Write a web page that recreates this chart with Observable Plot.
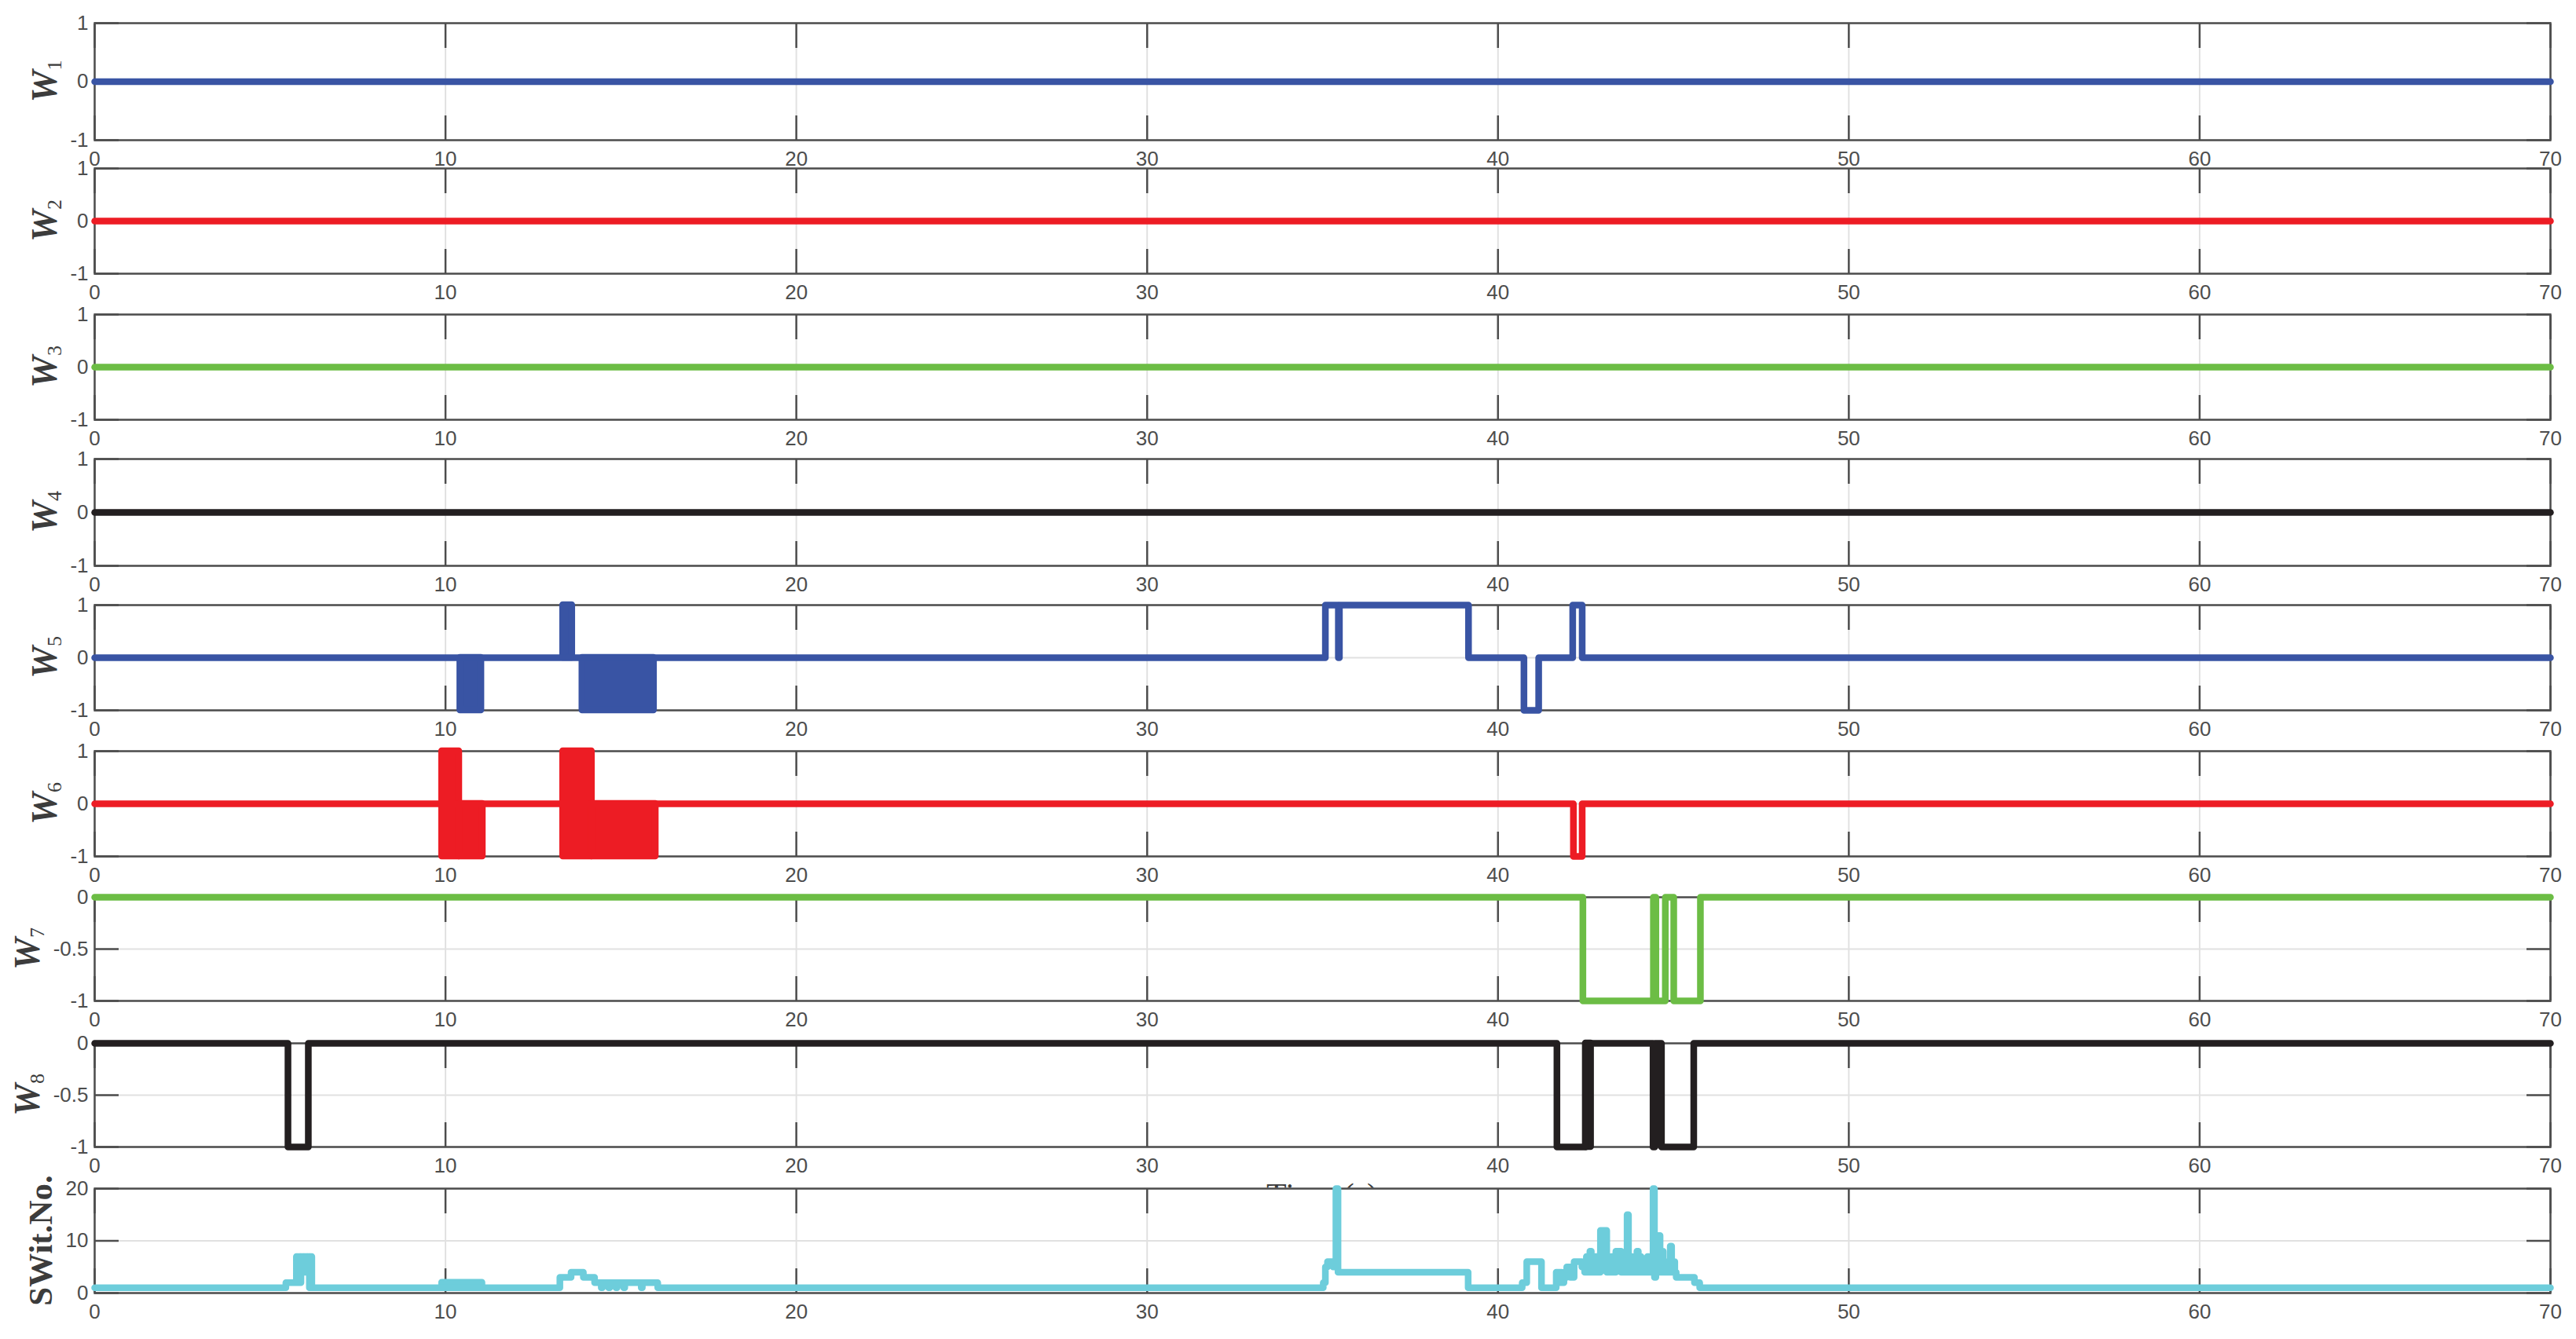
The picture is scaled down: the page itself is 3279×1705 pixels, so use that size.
<!DOCTYPE html>
<html>
<head>
<meta charset="utf-8">
<script src="https://cdn.jsdelivr.net/npm/d3@7"></script>
<script src="https://cdn.jsdelivr.net/npm/@observablehq/plot@0.6"></script>
<style>
  html, body { margin: 0; padding: 0; background: #ffffff; }
  #chart { position: relative; width: 3279px; height: 1705px; background: #ffffff; overflow: hidden; }
  #chart svg { position: absolute; left: 0; }
</style>
</head>
<body>
<div id="chart"></div>
<script>
// ---------------- data ----------------
const xTicks = [0, 10, 20, 30, 40, 50, 60, 70];
const yTicksW = [-1, 0, 1];
const yTicksNeg = [-1, -0.5, 0];
const yTicksSw = [0, 10, 20];

// step series: [time (s), value], drawn as step-after
const w1Steps = [[0, 0], [70, 0]];
const w2Steps = [[0, 0], [70, 0]];
const w3Steps = [[0, 0], [70, 0]];
const w4Steps = [[0, 0], [70, 0]];
const w5Steps = [[0, 0], [35.08, 1], [35.45, 0], [35.48, 1], [39.16, 0], [40.74, -1], [41.16, 0], [42.13, 1], [42.40, 0], [70, 0]];
const w6Steps = [[0, 0], [42.15, -1], [42.40, 0], [70, 0]];
const w7Steps = [[0, 0], [42.42, -1], [44.43, 0], [44.50, -1], [44.77, 0], [45.01, -1], [45.77, 0], [70, 0]];
const w8Steps = [[0, 0], [5.51, -1], [6.09, 0], [41.68, -1], [42.50, 0], [44.42, -1], [44.47, 0], [44.66, -1], [45.58, 0], [70, 0]];
const swSteps = [
  [0, 1], [5.45, 2], [5.75, 7], [5.78, 2], [5.82, 7], [5.85, 2], [5.88, 7], [5.95, 4], [5.98, 7], [6.05, 4], [6.08, 7], [6.12, 1], [6.15, 7], [6.19, 1],
  [13.26, 3], [13.58, 4], [13.93, 3], [14.25, 2], [14.44, 1], [14.47, 2], [14.65, 1], [14.68, 2], [14.86, 1], [14.89, 2], [15.08, 1], [15.11, 2], [15.58, 1], [15.61, 2], [16.05, 1],
  [35.02, 2], [35.08, 5], [35.14, 6], [35.30, 5], [35.38, 20], [35.44, 4], [39.15, 1],
  [40.69, 2], [40.82, 6], [41.24, 1], [41.66, 4], [41.72, 2], [41.76, 4], [41.82, 2], [41.88, 4], [41.92, 3], [41.96, 5], [42.06, 3], [42.17, 6], [42.39, 5],
  [42.47, 4], [42.52, 7], [42.56, 4], [42.62, 8], [42.66, 4], [42.70, 6], [42.74, 4], [42.78, 7], [42.82, 4], [42.92, 12], [43.10, 4], [43.14, 6], [43.18, 4], [43.24, 7], [43.28, 4],
  [43.36, 8], [43.51, 4], [43.55, 7], [43.60, 4], [43.68, 15], [43.72, 4], [43.78, 7], [43.82, 4], [43.88, 6], [43.92, 4], [43.96, 8], [44.00, 4], [44.04, 7], [44.08, 4],
  [44.14, 6], [44.18, 4], [44.26, 7], [44.30, 4], [44.34, 6], [44.38, 4], [44.42, 20], [44.46, 3], [44.50, 6], [44.54, 4], [44.56, 11], [44.62, 4], [44.67, 8], [44.71, 4],
  [44.76, 6], [44.80, 4], [44.84, 5], [44.88, 4], [44.91, 9], [44.95, 4], [45.00, 6], [45.04, 4], [45.08, 3], [45.60, 2], [45.75, 1], [70, 1]
];

// dense chattering intervals: [t start, t end, low value, high value]
const w5Bands = [[10.42, 11.02, -1, 0], [13.35, 13.61, 0, 1], [13.90, 15.94, -1, 0]];
const w6Bands = [[9.90, 10.39, -1, 1], [10.39, 11.06, -1, 0], [13.35, 14.17, -1, 1], [14.17, 15.99, -1, 0]];
const w8Bands = [[42.50, 42.65, -1, 0]];
const swBands = [[9.90, 11.05, 1, 2]];

const panelNames = ["1", "2", "3", "4", "5", "6", "7", "8"];
const xLabelText = "Time (s)";
const swLabelText = "SWit.No.";

// ---------------- styles / layout ----------------
const C = { blue: "#3954a4", red: "#ed1c24", green: "#6cbd45", black: "#231f20", cyan: "#6dcddb" };
const axisColor = "#4d4d4d";
const gridColor = "#e1e1e1";
const labelColor = "#3c3c3c";
const LW = 8.5;
const W = 3279, ML = 120, MR = 33, MT = 20, MB = 95;

const panels = [
  { sub: panelNames[0], steps: w1Steps, bands: [], color: C.blue, yd: [-1, 1], yt: yTicksW, top: 29, h: 149, lx: 72 },
  { sub: panelNames[1], steps: w2Steps, bands: [], color: C.red, yd: [-1, 1], yt: yTicksW, top: 214, h: 134, lx: 72 },
  { sub: panelNames[2], steps: w3Steps, bands: [], color: C.green, yd: [-1, 1], yt: yTicksW, top: 400, h: 134, lx: 72 },
  { sub: panelNames[3], steps: w4Steps, bands: [], color: C.black, yd: [-1, 1], yt: yTicksW, top: 584, h: 136, lx: 72 },
  { sub: panelNames[4], steps: w5Steps, bands: w5Bands, color: C.blue, yd: [-1, 1], yt: yTicksW, top: 770, h: 134, lx: 72 },
  { sub: panelNames[5], steps: w6Steps, bands: w6Bands, color: C.red, yd: [-1, 1], yt: yTicksW, top: 956, h: 134, lx: 72 },
  { sub: panelNames[6], steps: w7Steps, bands: [], color: C.green, yd: [-1, 0], yt: yTicksNeg, top: 1142, h: 132, lx: 50 },
  { sub: panelNames[7], steps: w8Steps, bands: w8Bands, color: C.black, yd: [-1, 0], yt: yTicksNeg, top: 1328, h: 132, lx: 50, xlabel: true },
  { sw: true, steps: swSteps, bands: swBands, color: C.cyan, yd: [0, 20], yt: yTicksSw, top: 1513, h: 133, lx: 66 }
];

const chart = document.getElementById("chart");
const fmt = d => String(d);
const tickOpts = { stroke: axisColor, strokeWidth: 2.5, tickFormat: () => "", label: null };

panels.forEach(p => {
  const el = Plot.plot({
    width: W,
    height: MT + p.h + MB,
    marginLeft: ML, marginRight: MR, marginTop: MT, marginBottom: MB,
    x: { domain: [0, 70], label: null },
    y: { domain: p.yd, label: null },
    style: { background: "transparent", overflow: "visible", fontFamily: "'Liberation Sans', Arial, sans-serif", fontSize: "26px", color: axisColor },
    marks: [
      Plot.frame({ fill: "white", stroke: "none" }),
      Plot.gridX(xTicks, { stroke: gridColor, strokeOpacity: 1, strokeWidth: 2 }),
      Plot.gridY(p.yt, { stroke: gridColor, strokeOpacity: 1, strokeWidth: 2 }),
      Plot.axisX(xTicks, { anchor: "bottom", tickSize: 0, tickPadding: 14, tickFormat: fmt, fontSize: 26, fill: axisColor, label: null }),
      Plot.axisY(p.yt, { anchor: "left", tickSize: 0, tickPadding: 8, tickFormat: fmt, fontSize: 26, fill: axisColor, label: null }),
      Plot.axisX(xTicks, { anchor: "bottom", tickSize: 31, dy: -31, ...tickOpts }),
      Plot.axisX(xTicks, { anchor: "top", tickSize: 31, dy: 31, ...tickOpts }),
      Plot.axisY(p.yt, { anchor: "left", tickSize: 31, dx: 31, ...tickOpts }),
      Plot.axisY(p.yt, { anchor: "right", tickSize: 31, dx: -31, ...tickOpts }),
      Plot.frame({ stroke: axisColor, strokeWidth: 2.5 }),
      Plot.rect(p.bands, { x1: d => d[0], x2: d => d[1], y1: d => d[2], y2: d => d[3], fill: p.color, stroke: p.color, strokeWidth: LW, strokeLinejoin: "round" }),
      Plot.line(p.steps, { x: d => d[0], y: d => d[1], curve: "step-after", stroke: p.color, strokeWidth: LW, strokeLinejoin: "round" })
    ]
  });
  el.style.top = (p.top - MT) + "px";
  chart.appendChild(el);

  const svg = d3.select(el);
  const cy = MT + p.h / 2;
  if (p.sw) {
    svg.append("text")
      .attr("transform", `translate(${p.lx},${cy}) rotate(-90)`)
      .attr("text-anchor", "middle")
      .attr("font-family", "'Liberation Serif', 'Times New Roman', serif")
      .attr("font-size", 43)
      .attr("font-weight", "bold")
      .attr("fill", labelColor)
      .text(swLabelText);
  } else {
    const t = svg.append("text")
      .attr("transform", `translate(${p.lx},${cy}) rotate(-90)`)
      .attr("text-anchor", "middle")
      .attr("font-family", "'Liberation Serif', 'Times New Roman', serif")
      .attr("font-size", 46)
      .attr("fill", labelColor);
    t.append("tspan").attr("font-style", "italic").attr("font-weight", "bold").text("W");
    t.append("tspan").attr("font-size", 26).attr("dy", 6).text(p.sub);
  }
  if (p.xlabel) {
    svg.append("text")
      .attr("x", (ML + W - MR) / 2)
      .attr("y", MT + p.h + 76)
      .attr("text-anchor", "middle")
      .attr("font-family", "'Liberation Serif', 'Times New Roman', serif")
      .attr("font-size", 42)
      .attr("fill", labelColor)
      .text(xLabelText);
  }
});
</script>
</body>
</html>
